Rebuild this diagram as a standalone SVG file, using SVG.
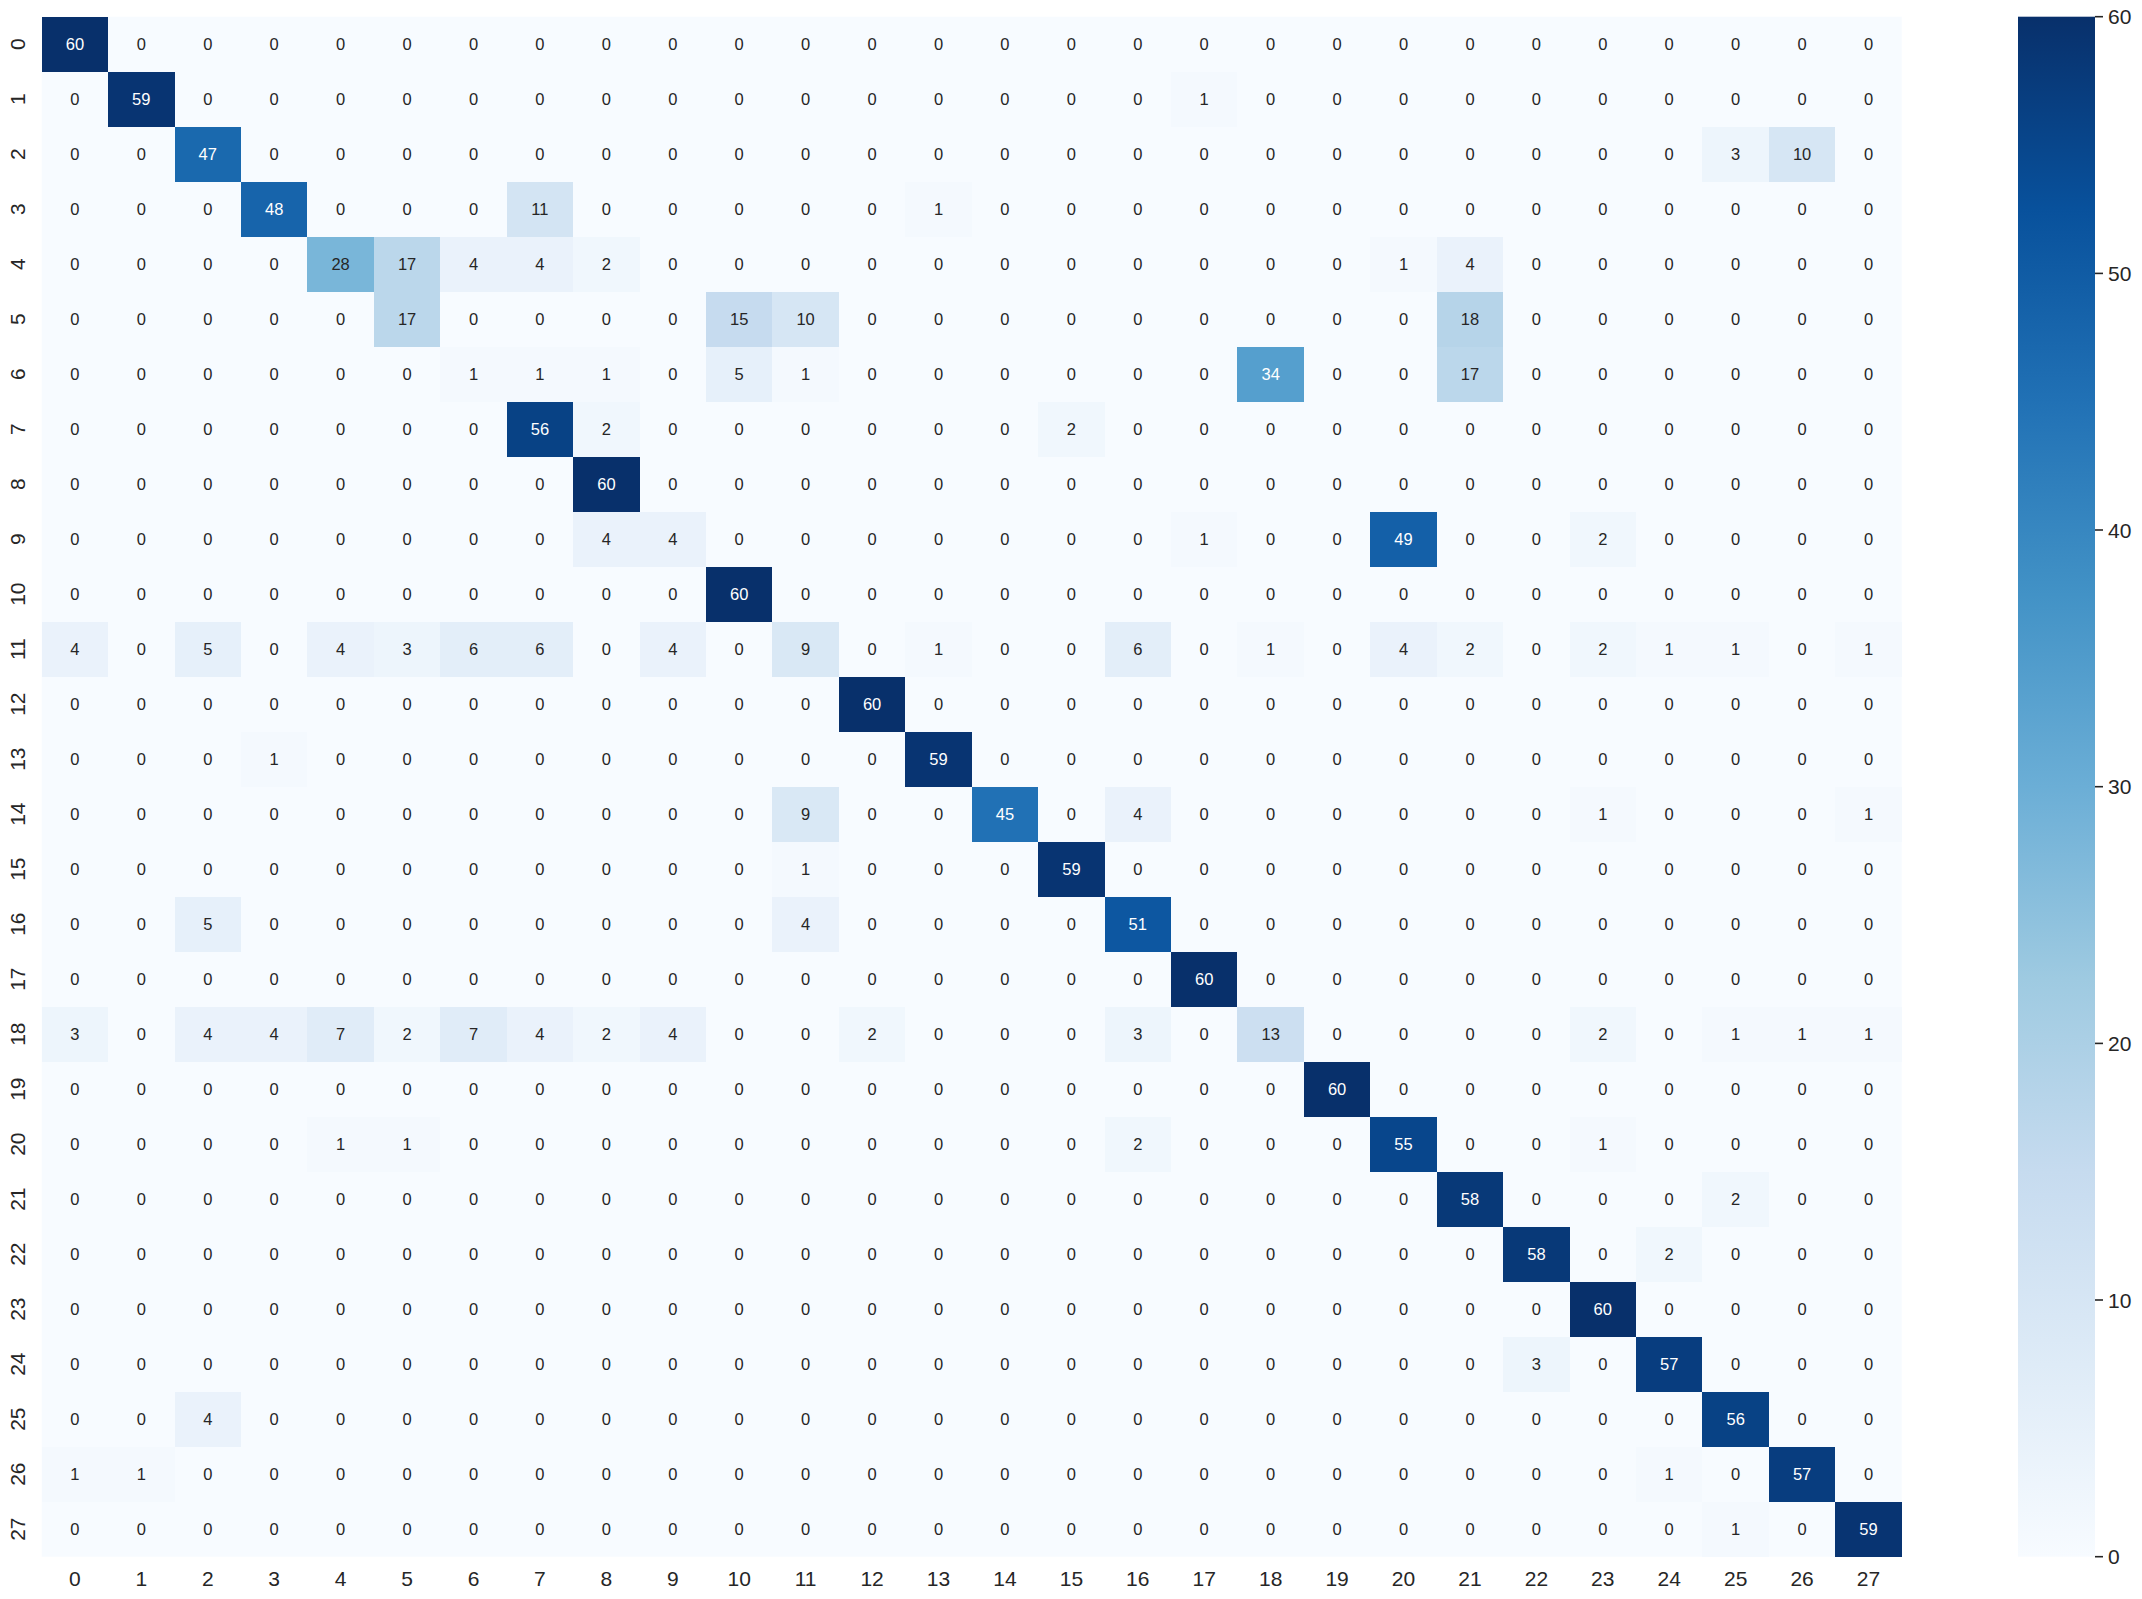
<svg xmlns="http://www.w3.org/2000/svg" width="2142" height="1599" viewBox="0 0 2142 1599">
<style>
text{font-family:"Liberation Sans",Arial,sans-serif;fill:#262626}
.a text{font-size:16.5px;text-anchor:middle}
.a .w{fill:#ffffff}
.tk{font-size:21px}
.xt text{text-anchor:middle}
.yt text{text-anchor:middle}
.cells rect{width:66.43px;height:55px}
.c1{fill:#f4f9fe}.c2{fill:#f0f7fd}.c3{fill:#edf5fc}.c4{fill:#eaf2fb}.c5{fill:#e6f0fa}.c6{fill:#e3eef9}.c7{fill:#e0ecf8}
.c9{fill:#d9e8f5}.c10{fill:#d6e6f4}.c11{fill:#d3e4f3}.c13{fill:#ccdff1}.c15{fill:#c6dbef}.c17{fill:#bbd7eb}.c18{fill:#b6d4e9}
.c28{fill:#79b6d9}.c34{fill:#559fce}.c45{fill:#2171b5}.c47{fill:#1a69ae}.c48{fill:#1764ab}.c49{fill:#1460a8}.c51{fill:#0d57a1}
.c55{fill:#08468c}.c56{fill:#084285}.c57{fill:#083d7f}.c58{fill:#083978}.c59{fill:#083472}.c60{fill:#08306b}
</style>
<defs>
<linearGradient id="blues" x1="0" y1="1" x2="0" y2="0">
<stop offset="0" stop-color="#f7fbff"/><stop offset="0.125" stop-color="#deebf7"/><stop offset="0.25" stop-color="#c6dbef"/>
<stop offset="0.375" stop-color="#9ecae1"/><stop offset="0.5" stop-color="#6baed6"/><stop offset="0.625" stop-color="#4292c6"/>
<stop offset="0.75" stop-color="#2171b5"/><stop offset="0.875" stop-color="#08519c"/><stop offset="1" stop-color="#08306b"/>
</linearGradient>
</defs>
<rect x="0" y="0" width="2142" height="1599" fill="#ffffff"/>
<g id="heatmap">
<rect x="41.7" y="16.7" width="1860.04" height="1540" fill="#f7fbff"/>
<g class="cells" shape-rendering="crispEdges">
<rect class="c60" x="41.7" y="16.7" width="66.43" height="55"/>
<rect class="c59" x="108.13" y="71.7" width="66.43" height="55"/><rect class="c1" x="1171.01" y="71.7" width="66.43" height="55"/>
<rect class="c47" x="174.56" y="126.7" width="66.43" height="55"/><rect class="c3" x="1702.45" y="126.7" width="66.43" height="55"/><rect class="c10" x="1768.88" y="126.7" width="66.43" height="55"/>
<rect class="c48" x="240.99" y="181.7" width="66.43" height="55"/><rect class="c11" x="506.71" y="181.7" width="66.43" height="55"/><rect class="c1" x="905.29" y="181.7" width="66.43" height="55"/>
<rect class="c28" x="307.42" y="236.7" width="66.43" height="55"/><rect class="c17" x="373.85" y="236.7" width="66.43" height="55"/><rect class="c4" x="440.28" y="236.7" width="66.43" height="55"/><rect class="c4" x="506.71" y="236.7" width="66.43" height="55"/><rect class="c2" x="573.14" y="236.7" width="66.43" height="55"/><rect class="c1" x="1370.3" y="236.7" width="66.43" height="55"/><rect class="c4" x="1436.73" y="236.7" width="66.43" height="55"/>
<rect class="c17" x="373.85" y="291.7" width="66.43" height="55"/><rect class="c15" x="706.0" y="291.7" width="66.43" height="55"/><rect class="c10" x="772.43" y="291.7" width="66.43" height="55"/><rect class="c18" x="1436.73" y="291.7" width="66.43" height="55"/>
<rect class="c1" x="440.28" y="346.7" width="66.43" height="55"/><rect class="c1" x="506.71" y="346.7" width="66.43" height="55"/><rect class="c1" x="573.14" y="346.7" width="66.43" height="55"/><rect class="c5" x="706.0" y="346.7" width="66.43" height="55"/><rect class="c1" x="772.43" y="346.7" width="66.43" height="55"/><rect class="c34" x="1237.44" y="346.7" width="66.43" height="55"/><rect class="c17" x="1436.73" y="346.7" width="66.43" height="55"/>
<rect class="c56" x="506.71" y="401.7" width="66.43" height="55"/><rect class="c2" x="573.14" y="401.7" width="66.43" height="55"/><rect class="c2" x="1038.15" y="401.7" width="66.43" height="55"/>
<rect class="c60" x="573.14" y="456.7" width="66.43" height="55"/>
<rect class="c4" x="573.14" y="511.7" width="66.43" height="55"/><rect class="c4" x="639.57" y="511.7" width="66.43" height="55"/><rect class="c1" x="1171.01" y="511.7" width="66.43" height="55"/><rect class="c49" x="1370.3" y="511.7" width="66.43" height="55"/><rect class="c2" x="1569.59" y="511.7" width="66.43" height="55"/>
<rect class="c60" x="706.0" y="566.7" width="66.43" height="55"/>
<rect class="c4" x="41.7" y="621.7" width="66.43" height="55"/><rect class="c5" x="174.56" y="621.7" width="66.43" height="55"/><rect class="c4" x="307.42" y="621.7" width="66.43" height="55"/><rect class="c3" x="373.85" y="621.7" width="66.43" height="55"/><rect class="c6" x="440.28" y="621.7" width="66.43" height="55"/><rect class="c6" x="506.71" y="621.7" width="66.43" height="55"/><rect class="c4" x="639.57" y="621.7" width="66.43" height="55"/><rect class="c9" x="772.43" y="621.7" width="66.43" height="55"/><rect class="c1" x="905.29" y="621.7" width="66.43" height="55"/><rect class="c6" x="1104.58" y="621.7" width="66.43" height="55"/><rect class="c1" x="1237.44" y="621.7" width="66.43" height="55"/><rect class="c4" x="1370.3" y="621.7" width="66.43" height="55"/><rect class="c2" x="1436.73" y="621.7" width="66.43" height="55"/><rect class="c2" x="1569.59" y="621.7" width="66.43" height="55"/><rect class="c1" x="1636.02" y="621.7" width="66.43" height="55"/><rect class="c1" x="1702.45" y="621.7" width="66.43" height="55"/><rect class="c1" x="1835.31" y="621.7" width="66.43" height="55"/>
<rect class="c60" x="838.86" y="676.7" width="66.43" height="55"/>
<rect class="c1" x="240.99" y="731.7" width="66.43" height="55"/><rect class="c59" x="905.29" y="731.7" width="66.43" height="55"/>
<rect class="c9" x="772.43" y="786.7" width="66.43" height="55"/><rect class="c45" x="971.72" y="786.7" width="66.43" height="55"/><rect class="c4" x="1104.58" y="786.7" width="66.43" height="55"/><rect class="c1" x="1569.59" y="786.7" width="66.43" height="55"/><rect class="c1" x="1835.31" y="786.7" width="66.43" height="55"/>
<rect class="c1" x="772.43" y="841.7" width="66.43" height="55"/><rect class="c59" x="1038.15" y="841.7" width="66.43" height="55"/>
<rect class="c5" x="174.56" y="896.7" width="66.43" height="55"/><rect class="c4" x="772.43" y="896.7" width="66.43" height="55"/><rect class="c51" x="1104.58" y="896.7" width="66.43" height="55"/>
<rect class="c60" x="1171.01" y="951.7" width="66.43" height="55"/>
<rect class="c3" x="41.7" y="1006.7" width="66.43" height="55"/><rect class="c4" x="174.56" y="1006.7" width="66.43" height="55"/><rect class="c4" x="240.99" y="1006.7" width="66.43" height="55"/><rect class="c7" x="307.42" y="1006.7" width="66.43" height="55"/><rect class="c2" x="373.85" y="1006.7" width="66.43" height="55"/><rect class="c7" x="440.28" y="1006.7" width="66.43" height="55"/><rect class="c4" x="506.71" y="1006.7" width="66.43" height="55"/><rect class="c2" x="573.14" y="1006.7" width="66.43" height="55"/><rect class="c4" x="639.57" y="1006.7" width="66.43" height="55"/><rect class="c2" x="838.86" y="1006.7" width="66.43" height="55"/><rect class="c3" x="1104.58" y="1006.7" width="66.43" height="55"/><rect class="c13" x="1237.44" y="1006.7" width="66.43" height="55"/><rect class="c2" x="1569.59" y="1006.7" width="66.43" height="55"/><rect class="c1" x="1702.45" y="1006.7" width="66.43" height="55"/><rect class="c1" x="1768.88" y="1006.7" width="66.43" height="55"/><rect class="c1" x="1835.31" y="1006.7" width="66.43" height="55"/>
<rect class="c60" x="1303.87" y="1061.7" width="66.43" height="55"/>
<rect class="c1" x="307.42" y="1116.7" width="66.43" height="55"/><rect class="c1" x="373.85" y="1116.7" width="66.43" height="55"/><rect class="c2" x="1104.58" y="1116.7" width="66.43" height="55"/><rect class="c55" x="1370.3" y="1116.7" width="66.43" height="55"/><rect class="c1" x="1569.59" y="1116.7" width="66.43" height="55"/>
<rect class="c58" x="1436.73" y="1171.7" width="66.43" height="55"/><rect class="c2" x="1702.45" y="1171.7" width="66.43" height="55"/>
<rect class="c58" x="1503.16" y="1226.7" width="66.43" height="55"/><rect class="c2" x="1636.02" y="1226.7" width="66.43" height="55"/>
<rect class="c60" x="1569.59" y="1281.7" width="66.43" height="55"/>
<rect class="c3" x="1503.16" y="1336.7" width="66.43" height="55"/><rect class="c57" x="1636.02" y="1336.7" width="66.43" height="55"/>
<rect class="c4" x="174.56" y="1391.7" width="66.43" height="55"/><rect class="c56" x="1702.45" y="1391.7" width="66.43" height="55"/>
<rect class="c1" x="41.7" y="1446.7" width="66.43" height="55"/><rect class="c1" x="108.13" y="1446.7" width="66.43" height="55"/><rect class="c1" x="1636.02" y="1446.7" width="66.43" height="55"/><rect class="c57" x="1768.88" y="1446.7" width="66.43" height="55"/>
<rect class="c1" x="1702.45" y="1501.7" width="66.43" height="55"/><rect class="c59" x="1835.31" y="1501.7" width="66.43" height="55"/>
</g>
<g class="a">
<g transform="translate(0,50.1)"><text x="74.9" class="w">60</text><text x="141.3">0</text><text x="207.8">0</text><text x="274.2">0</text><text x="340.6">0</text><text x="407.1">0</text><text x="473.5">0</text><text x="539.9">0</text><text x="606.4">0</text><text x="672.8">0</text><text x="739.2">0</text><text x="805.6">0</text><text x="872.1">0</text><text x="938.5">0</text><text x="1004.9">0</text><text x="1071.4">0</text><text x="1137.8">0</text><text x="1204.2">0</text><text x="1270.7">0</text><text x="1337.1">0</text><text x="1403.5">0</text><text x="1470">0</text><text x="1536.4">0</text><text x="1602.8">0</text><text x="1669.2">0</text><text x="1735.7">0</text><text x="1802.1">0</text><text x="1868.5">0</text></g>
<g transform="translate(0,105.1)"><text x="74.9">0</text><text x="141.3" class="w">59</text><text x="207.8">0</text><text x="274.2">0</text><text x="340.6">0</text><text x="407.1">0</text><text x="473.5">0</text><text x="539.9">0</text><text x="606.4">0</text><text x="672.8">0</text><text x="739.2">0</text><text x="805.6">0</text><text x="872.1">0</text><text x="938.5">0</text><text x="1004.9">0</text><text x="1071.4">0</text><text x="1137.8">0</text><text x="1204.2">1</text><text x="1270.7">0</text><text x="1337.1">0</text><text x="1403.5">0</text><text x="1470">0</text><text x="1536.4">0</text><text x="1602.8">0</text><text x="1669.2">0</text><text x="1735.7">0</text><text x="1802.1">0</text><text x="1868.5">0</text></g>
<g transform="translate(0,160.1)"><text x="74.9">0</text><text x="141.3">0</text><text x="207.8" class="w">47</text><text x="274.2">0</text><text x="340.6">0</text><text x="407.1">0</text><text x="473.5">0</text><text x="539.9">0</text><text x="606.4">0</text><text x="672.8">0</text><text x="739.2">0</text><text x="805.6">0</text><text x="872.1">0</text><text x="938.5">0</text><text x="1004.9">0</text><text x="1071.4">0</text><text x="1137.8">0</text><text x="1204.2">0</text><text x="1270.7">0</text><text x="1337.1">0</text><text x="1403.5">0</text><text x="1470">0</text><text x="1536.4">0</text><text x="1602.8">0</text><text x="1669.2">0</text><text x="1735.7">3</text><text x="1802.1">10</text><text x="1868.5">0</text></g>
<g transform="translate(0,215.1)"><text x="74.9">0</text><text x="141.3">0</text><text x="207.8">0</text><text x="274.2" class="w">48</text><text x="340.6">0</text><text x="407.1">0</text><text x="473.5">0</text><text x="539.9">11</text><text x="606.4">0</text><text x="672.8">0</text><text x="739.2">0</text><text x="805.6">0</text><text x="872.1">0</text><text x="938.5">1</text><text x="1004.9">0</text><text x="1071.4">0</text><text x="1137.8">0</text><text x="1204.2">0</text><text x="1270.7">0</text><text x="1337.1">0</text><text x="1403.5">0</text><text x="1470">0</text><text x="1536.4">0</text><text x="1602.8">0</text><text x="1669.2">0</text><text x="1735.7">0</text><text x="1802.1">0</text><text x="1868.5">0</text></g>
<g transform="translate(0,270.1)"><text x="74.9">0</text><text x="141.3">0</text><text x="207.8">0</text><text x="274.2">0</text><text x="340.6">28</text><text x="407.1">17</text><text x="473.5">4</text><text x="539.9">4</text><text x="606.4">2</text><text x="672.8">0</text><text x="739.2">0</text><text x="805.6">0</text><text x="872.1">0</text><text x="938.5">0</text><text x="1004.9">0</text><text x="1071.4">0</text><text x="1137.8">0</text><text x="1204.2">0</text><text x="1270.7">0</text><text x="1337.1">0</text><text x="1403.5">1</text><text x="1470">4</text><text x="1536.4">0</text><text x="1602.8">0</text><text x="1669.2">0</text><text x="1735.7">0</text><text x="1802.1">0</text><text x="1868.5">0</text></g>
<g transform="translate(0,325.1)"><text x="74.9">0</text><text x="141.3">0</text><text x="207.8">0</text><text x="274.2">0</text><text x="340.6">0</text><text x="407.1">17</text><text x="473.5">0</text><text x="539.9">0</text><text x="606.4">0</text><text x="672.8">0</text><text x="739.2">15</text><text x="805.6">10</text><text x="872.1">0</text><text x="938.5">0</text><text x="1004.9">0</text><text x="1071.4">0</text><text x="1137.8">0</text><text x="1204.2">0</text><text x="1270.7">0</text><text x="1337.1">0</text><text x="1403.5">0</text><text x="1470">18</text><text x="1536.4">0</text><text x="1602.8">0</text><text x="1669.2">0</text><text x="1735.7">0</text><text x="1802.1">0</text><text x="1868.5">0</text></g>
<g transform="translate(0,380.1)"><text x="74.9">0</text><text x="141.3">0</text><text x="207.8">0</text><text x="274.2">0</text><text x="340.6">0</text><text x="407.1">0</text><text x="473.5">1</text><text x="539.9">1</text><text x="606.4">1</text><text x="672.8">0</text><text x="739.2">5</text><text x="805.6">1</text><text x="872.1">0</text><text x="938.5">0</text><text x="1004.9">0</text><text x="1071.4">0</text><text x="1137.8">0</text><text x="1204.2">0</text><text x="1270.7" class="w">34</text><text x="1337.1">0</text><text x="1403.5">0</text><text x="1470">17</text><text x="1536.4">0</text><text x="1602.8">0</text><text x="1669.2">0</text><text x="1735.7">0</text><text x="1802.1">0</text><text x="1868.5">0</text></g>
<g transform="translate(0,435.1)"><text x="74.9">0</text><text x="141.3">0</text><text x="207.8">0</text><text x="274.2">0</text><text x="340.6">0</text><text x="407.1">0</text><text x="473.5">0</text><text x="539.9" class="w">56</text><text x="606.4">2</text><text x="672.8">0</text><text x="739.2">0</text><text x="805.6">0</text><text x="872.1">0</text><text x="938.5">0</text><text x="1004.9">0</text><text x="1071.4">2</text><text x="1137.8">0</text><text x="1204.2">0</text><text x="1270.7">0</text><text x="1337.1">0</text><text x="1403.5">0</text><text x="1470">0</text><text x="1536.4">0</text><text x="1602.8">0</text><text x="1669.2">0</text><text x="1735.7">0</text><text x="1802.1">0</text><text x="1868.5">0</text></g>
<g transform="translate(0,490.1)"><text x="74.9">0</text><text x="141.3">0</text><text x="207.8">0</text><text x="274.2">0</text><text x="340.6">0</text><text x="407.1">0</text><text x="473.5">0</text><text x="539.9">0</text><text x="606.4" class="w">60</text><text x="672.8">0</text><text x="739.2">0</text><text x="805.6">0</text><text x="872.1">0</text><text x="938.5">0</text><text x="1004.9">0</text><text x="1071.4">0</text><text x="1137.8">0</text><text x="1204.2">0</text><text x="1270.7">0</text><text x="1337.1">0</text><text x="1403.5">0</text><text x="1470">0</text><text x="1536.4">0</text><text x="1602.8">0</text><text x="1669.2">0</text><text x="1735.7">0</text><text x="1802.1">0</text><text x="1868.5">0</text></g>
<g transform="translate(0,545.1)"><text x="74.9">0</text><text x="141.3">0</text><text x="207.8">0</text><text x="274.2">0</text><text x="340.6">0</text><text x="407.1">0</text><text x="473.5">0</text><text x="539.9">0</text><text x="606.4">4</text><text x="672.8">4</text><text x="739.2">0</text><text x="805.6">0</text><text x="872.1">0</text><text x="938.5">0</text><text x="1004.9">0</text><text x="1071.4">0</text><text x="1137.8">0</text><text x="1204.2">1</text><text x="1270.7">0</text><text x="1337.1">0</text><text x="1403.5" class="w">49</text><text x="1470">0</text><text x="1536.4">0</text><text x="1602.8">2</text><text x="1669.2">0</text><text x="1735.7">0</text><text x="1802.1">0</text><text x="1868.5">0</text></g>
<g transform="translate(0,600.1)"><text x="74.9">0</text><text x="141.3">0</text><text x="207.8">0</text><text x="274.2">0</text><text x="340.6">0</text><text x="407.1">0</text><text x="473.5">0</text><text x="539.9">0</text><text x="606.4">0</text><text x="672.8">0</text><text x="739.2" class="w">60</text><text x="805.6">0</text><text x="872.1">0</text><text x="938.5">0</text><text x="1004.9">0</text><text x="1071.4">0</text><text x="1137.8">0</text><text x="1204.2">0</text><text x="1270.7">0</text><text x="1337.1">0</text><text x="1403.5">0</text><text x="1470">0</text><text x="1536.4">0</text><text x="1602.8">0</text><text x="1669.2">0</text><text x="1735.7">0</text><text x="1802.1">0</text><text x="1868.5">0</text></g>
<g transform="translate(0,655.1)"><text x="74.9">4</text><text x="141.3">0</text><text x="207.8">5</text><text x="274.2">0</text><text x="340.6">4</text><text x="407.1">3</text><text x="473.5">6</text><text x="539.9">6</text><text x="606.4">0</text><text x="672.8">4</text><text x="739.2">0</text><text x="805.6">9</text><text x="872.1">0</text><text x="938.5">1</text><text x="1004.9">0</text><text x="1071.4">0</text><text x="1137.8">6</text><text x="1204.2">0</text><text x="1270.7">1</text><text x="1337.1">0</text><text x="1403.5">4</text><text x="1470">2</text><text x="1536.4">0</text><text x="1602.8">2</text><text x="1669.2">1</text><text x="1735.7">1</text><text x="1802.1">0</text><text x="1868.5">1</text></g>
<g transform="translate(0,710.1)"><text x="74.9">0</text><text x="141.3">0</text><text x="207.8">0</text><text x="274.2">0</text><text x="340.6">0</text><text x="407.1">0</text><text x="473.5">0</text><text x="539.9">0</text><text x="606.4">0</text><text x="672.8">0</text><text x="739.2">0</text><text x="805.6">0</text><text x="872.1" class="w">60</text><text x="938.5">0</text><text x="1004.9">0</text><text x="1071.4">0</text><text x="1137.8">0</text><text x="1204.2">0</text><text x="1270.7">0</text><text x="1337.1">0</text><text x="1403.5">0</text><text x="1470">0</text><text x="1536.4">0</text><text x="1602.8">0</text><text x="1669.2">0</text><text x="1735.7">0</text><text x="1802.1">0</text><text x="1868.5">0</text></g>
<g transform="translate(0,765.1)"><text x="74.9">0</text><text x="141.3">0</text><text x="207.8">0</text><text x="274.2">1</text><text x="340.6">0</text><text x="407.1">0</text><text x="473.5">0</text><text x="539.9">0</text><text x="606.4">0</text><text x="672.8">0</text><text x="739.2">0</text><text x="805.6">0</text><text x="872.1">0</text><text x="938.5" class="w">59</text><text x="1004.9">0</text><text x="1071.4">0</text><text x="1137.8">0</text><text x="1204.2">0</text><text x="1270.7">0</text><text x="1337.1">0</text><text x="1403.5">0</text><text x="1470">0</text><text x="1536.4">0</text><text x="1602.8">0</text><text x="1669.2">0</text><text x="1735.7">0</text><text x="1802.1">0</text><text x="1868.5">0</text></g>
<g transform="translate(0,820.1)"><text x="74.9">0</text><text x="141.3">0</text><text x="207.8">0</text><text x="274.2">0</text><text x="340.6">0</text><text x="407.1">0</text><text x="473.5">0</text><text x="539.9">0</text><text x="606.4">0</text><text x="672.8">0</text><text x="739.2">0</text><text x="805.6">9</text><text x="872.1">0</text><text x="938.5">0</text><text x="1004.9" class="w">45</text><text x="1071.4">0</text><text x="1137.8">4</text><text x="1204.2">0</text><text x="1270.7">0</text><text x="1337.1">0</text><text x="1403.5">0</text><text x="1470">0</text><text x="1536.4">0</text><text x="1602.8">1</text><text x="1669.2">0</text><text x="1735.7">0</text><text x="1802.1">0</text><text x="1868.5">1</text></g>
<g transform="translate(0,875.1)"><text x="74.9">0</text><text x="141.3">0</text><text x="207.8">0</text><text x="274.2">0</text><text x="340.6">0</text><text x="407.1">0</text><text x="473.5">0</text><text x="539.9">0</text><text x="606.4">0</text><text x="672.8">0</text><text x="739.2">0</text><text x="805.6">1</text><text x="872.1">0</text><text x="938.5">0</text><text x="1004.9">0</text><text x="1071.4" class="w">59</text><text x="1137.8">0</text><text x="1204.2">0</text><text x="1270.7">0</text><text x="1337.1">0</text><text x="1403.5">0</text><text x="1470">0</text><text x="1536.4">0</text><text x="1602.8">0</text><text x="1669.2">0</text><text x="1735.7">0</text><text x="1802.1">0</text><text x="1868.5">0</text></g>
<g transform="translate(0,930.1)"><text x="74.9">0</text><text x="141.3">0</text><text x="207.8">5</text><text x="274.2">0</text><text x="340.6">0</text><text x="407.1">0</text><text x="473.5">0</text><text x="539.9">0</text><text x="606.4">0</text><text x="672.8">0</text><text x="739.2">0</text><text x="805.6">4</text><text x="872.1">0</text><text x="938.5">0</text><text x="1004.9">0</text><text x="1071.4">0</text><text x="1137.8" class="w">51</text><text x="1204.2">0</text><text x="1270.7">0</text><text x="1337.1">0</text><text x="1403.5">0</text><text x="1470">0</text><text x="1536.4">0</text><text x="1602.8">0</text><text x="1669.2">0</text><text x="1735.7">0</text><text x="1802.1">0</text><text x="1868.5">0</text></g>
<g transform="translate(0,985.1)"><text x="74.9">0</text><text x="141.3">0</text><text x="207.8">0</text><text x="274.2">0</text><text x="340.6">0</text><text x="407.1">0</text><text x="473.5">0</text><text x="539.9">0</text><text x="606.4">0</text><text x="672.8">0</text><text x="739.2">0</text><text x="805.6">0</text><text x="872.1">0</text><text x="938.5">0</text><text x="1004.9">0</text><text x="1071.4">0</text><text x="1137.8">0</text><text x="1204.2" class="w">60</text><text x="1270.7">0</text><text x="1337.1">0</text><text x="1403.5">0</text><text x="1470">0</text><text x="1536.4">0</text><text x="1602.8">0</text><text x="1669.2">0</text><text x="1735.7">0</text><text x="1802.1">0</text><text x="1868.5">0</text></g>
<g transform="translate(0,1040.1)"><text x="74.9">3</text><text x="141.3">0</text><text x="207.8">4</text><text x="274.2">4</text><text x="340.6">7</text><text x="407.1">2</text><text x="473.5">7</text><text x="539.9">4</text><text x="606.4">2</text><text x="672.8">4</text><text x="739.2">0</text><text x="805.6">0</text><text x="872.1">2</text><text x="938.5">0</text><text x="1004.9">0</text><text x="1071.4">0</text><text x="1137.8">3</text><text x="1204.2">0</text><text x="1270.7">13</text><text x="1337.1">0</text><text x="1403.5">0</text><text x="1470">0</text><text x="1536.4">0</text><text x="1602.8">2</text><text x="1669.2">0</text><text x="1735.7">1</text><text x="1802.1">1</text><text x="1868.5">1</text></g>
<g transform="translate(0,1095.1)"><text x="74.9">0</text><text x="141.3">0</text><text x="207.8">0</text><text x="274.2">0</text><text x="340.6">0</text><text x="407.1">0</text><text x="473.5">0</text><text x="539.9">0</text><text x="606.4">0</text><text x="672.8">0</text><text x="739.2">0</text><text x="805.6">0</text><text x="872.1">0</text><text x="938.5">0</text><text x="1004.9">0</text><text x="1071.4">0</text><text x="1137.8">0</text><text x="1204.2">0</text><text x="1270.7">0</text><text x="1337.1" class="w">60</text><text x="1403.5">0</text><text x="1470">0</text><text x="1536.4">0</text><text x="1602.8">0</text><text x="1669.2">0</text><text x="1735.7">0</text><text x="1802.1">0</text><text x="1868.5">0</text></g>
<g transform="translate(0,1150.1)"><text x="74.9">0</text><text x="141.3">0</text><text x="207.8">0</text><text x="274.2">0</text><text x="340.6">1</text><text x="407.1">1</text><text x="473.5">0</text><text x="539.9">0</text><text x="606.4">0</text><text x="672.8">0</text><text x="739.2">0</text><text x="805.6">0</text><text x="872.1">0</text><text x="938.5">0</text><text x="1004.9">0</text><text x="1071.4">0</text><text x="1137.8">2</text><text x="1204.2">0</text><text x="1270.7">0</text><text x="1337.1">0</text><text x="1403.5" class="w">55</text><text x="1470">0</text><text x="1536.4">0</text><text x="1602.8">1</text><text x="1669.2">0</text><text x="1735.7">0</text><text x="1802.1">0</text><text x="1868.5">0</text></g>
<g transform="translate(0,1205.1)"><text x="74.9">0</text><text x="141.3">0</text><text x="207.8">0</text><text x="274.2">0</text><text x="340.6">0</text><text x="407.1">0</text><text x="473.5">0</text><text x="539.9">0</text><text x="606.4">0</text><text x="672.8">0</text><text x="739.2">0</text><text x="805.6">0</text><text x="872.1">0</text><text x="938.5">0</text><text x="1004.9">0</text><text x="1071.4">0</text><text x="1137.8">0</text><text x="1204.2">0</text><text x="1270.7">0</text><text x="1337.1">0</text><text x="1403.5">0</text><text x="1470" class="w">58</text><text x="1536.4">0</text><text x="1602.8">0</text><text x="1669.2">0</text><text x="1735.7">2</text><text x="1802.1">0</text><text x="1868.5">0</text></g>
<g transform="translate(0,1260.1)"><text x="74.9">0</text><text x="141.3">0</text><text x="207.8">0</text><text x="274.2">0</text><text x="340.6">0</text><text x="407.1">0</text><text x="473.5">0</text><text x="539.9">0</text><text x="606.4">0</text><text x="672.8">0</text><text x="739.2">0</text><text x="805.6">0</text><text x="872.1">0</text><text x="938.5">0</text><text x="1004.9">0</text><text x="1071.4">0</text><text x="1137.8">0</text><text x="1204.2">0</text><text x="1270.7">0</text><text x="1337.1">0</text><text x="1403.5">0</text><text x="1470">0</text><text x="1536.4" class="w">58</text><text x="1602.8">0</text><text x="1669.2">2</text><text x="1735.7">0</text><text x="1802.1">0</text><text x="1868.5">0</text></g>
<g transform="translate(0,1315.1)"><text x="74.9">0</text><text x="141.3">0</text><text x="207.8">0</text><text x="274.2">0</text><text x="340.6">0</text><text x="407.1">0</text><text x="473.5">0</text><text x="539.9">0</text><text x="606.4">0</text><text x="672.8">0</text><text x="739.2">0</text><text x="805.6">0</text><text x="872.1">0</text><text x="938.5">0</text><text x="1004.9">0</text><text x="1071.4">0</text><text x="1137.8">0</text><text x="1204.2">0</text><text x="1270.7">0</text><text x="1337.1">0</text><text x="1403.5">0</text><text x="1470">0</text><text x="1536.4">0</text><text x="1602.8" class="w">60</text><text x="1669.2">0</text><text x="1735.7">0</text><text x="1802.1">0</text><text x="1868.5">0</text></g>
<g transform="translate(0,1370.1)"><text x="74.9">0</text><text x="141.3">0</text><text x="207.8">0</text><text x="274.2">0</text><text x="340.6">0</text><text x="407.1">0</text><text x="473.5">0</text><text x="539.9">0</text><text x="606.4">0</text><text x="672.8">0</text><text x="739.2">0</text><text x="805.6">0</text><text x="872.1">0</text><text x="938.5">0</text><text x="1004.9">0</text><text x="1071.4">0</text><text x="1137.8">0</text><text x="1204.2">0</text><text x="1270.7">0</text><text x="1337.1">0</text><text x="1403.5">0</text><text x="1470">0</text><text x="1536.4">3</text><text x="1602.8">0</text><text x="1669.2" class="w">57</text><text x="1735.7">0</text><text x="1802.1">0</text><text x="1868.5">0</text></g>
<g transform="translate(0,1425.1)"><text x="74.9">0</text><text x="141.3">0</text><text x="207.8">4</text><text x="274.2">0</text><text x="340.6">0</text><text x="407.1">0</text><text x="473.5">0</text><text x="539.9">0</text><text x="606.4">0</text><text x="672.8">0</text><text x="739.2">0</text><text x="805.6">0</text><text x="872.1">0</text><text x="938.5">0</text><text x="1004.9">0</text><text x="1071.4">0</text><text x="1137.8">0</text><text x="1204.2">0</text><text x="1270.7">0</text><text x="1337.1">0</text><text x="1403.5">0</text><text x="1470">0</text><text x="1536.4">0</text><text x="1602.8">0</text><text x="1669.2">0</text><text x="1735.7" class="w">56</text><text x="1802.1">0</text><text x="1868.5">0</text></g>
<g transform="translate(0,1480.1)"><text x="74.9">1</text><text x="141.3">1</text><text x="207.8">0</text><text x="274.2">0</text><text x="340.6">0</text><text x="407.1">0</text><text x="473.5">0</text><text x="539.9">0</text><text x="606.4">0</text><text x="672.8">0</text><text x="739.2">0</text><text x="805.6">0</text><text x="872.1">0</text><text x="938.5">0</text><text x="1004.9">0</text><text x="1071.4">0</text><text x="1137.8">0</text><text x="1204.2">0</text><text x="1270.7">0</text><text x="1337.1">0</text><text x="1403.5">0</text><text x="1470">0</text><text x="1536.4">0</text><text x="1602.8">0</text><text x="1669.2">1</text><text x="1735.7">0</text><text x="1802.1" class="w">57</text><text x="1868.5">0</text></g>
<g transform="translate(0,1535.1)"><text x="74.9">0</text><text x="141.3">0</text><text x="207.8">0</text><text x="274.2">0</text><text x="340.6">0</text><text x="407.1">0</text><text x="473.5">0</text><text x="539.9">0</text><text x="606.4">0</text><text x="672.8">0</text><text x="739.2">0</text><text x="805.6">0</text><text x="872.1">0</text><text x="938.5">0</text><text x="1004.9">0</text><text x="1071.4">0</text><text x="1137.8">0</text><text x="1204.2">0</text><text x="1270.7">0</text><text x="1337.1">0</text><text x="1403.5">0</text><text x="1470">0</text><text x="1536.4">0</text><text x="1602.8">0</text><text x="1669.2">0</text><text x="1735.7">1</text><text x="1802.1">0</text><text x="1868.5" class="w">59</text></g>
</g>
</g>
<g id="x-axis" class="tk xt">
<g transform="translate(0,1586)"><text x="74.9">0</text><text x="141.3">1</text><text x="207.8">2</text><text x="274.2">3</text><text x="340.6">4</text><text x="407.1">5</text><text x="473.5">6</text><text x="539.9">7</text><text x="606.4">8</text><text x="672.8">9</text><text x="739.2">10</text><text x="805.6">11</text><text x="872.1">12</text><text x="938.5">13</text><text x="1004.9">14</text><text x="1071.4">15</text><text x="1137.8">16</text><text x="1204.2">17</text><text x="1270.7">18</text><text x="1337.1">19</text><text x="1403.5">20</text><text x="1470">21</text><text x="1536.4">22</text><text x="1602.8">23</text><text x="1669.2">24</text><text x="1735.7">25</text><text x="1802.1">26</text><text x="1868.5">27</text></g>
</g>
<g id="y-axis" class="tk yt">
<text transform="translate(25,44.2) rotate(-90)">0</text>
<text transform="translate(25,99.2) rotate(-90)">1</text>
<text transform="translate(25,154.2) rotate(-90)">2</text>
<text transform="translate(25,209.2) rotate(-90)">3</text>
<text transform="translate(25,264.2) rotate(-90)">4</text>
<text transform="translate(25,319.2) rotate(-90)">5</text>
<text transform="translate(25,374.2) rotate(-90)">6</text>
<text transform="translate(25,429.2) rotate(-90)">7</text>
<text transform="translate(25,484.2) rotate(-90)">8</text>
<text transform="translate(25,539.2) rotate(-90)">9</text>
<text transform="translate(25,594.2) rotate(-90)">10</text>
<text transform="translate(25,649.2) rotate(-90)">11</text>
<text transform="translate(25,704.2) rotate(-90)">12</text>
<text transform="translate(25,759.2) rotate(-90)">13</text>
<text transform="translate(25,814.2) rotate(-90)">14</text>
<text transform="translate(25,869.2) rotate(-90)">15</text>
<text transform="translate(25,924.2) rotate(-90)">16</text>
<text transform="translate(25,979.2) rotate(-90)">17</text>
<text transform="translate(25,1034.2) rotate(-90)">18</text>
<text transform="translate(25,1089.2) rotate(-90)">19</text>
<text transform="translate(25,1144.2) rotate(-90)">20</text>
<text transform="translate(25,1199.2) rotate(-90)">21</text>
<text transform="translate(25,1254.2) rotate(-90)">22</text>
<text transform="translate(25,1309.2) rotate(-90)">23</text>
<text transform="translate(25,1364.2) rotate(-90)">24</text>
<text transform="translate(25,1419.2) rotate(-90)">25</text>
<text transform="translate(25,1474.2) rotate(-90)">26</text>
<text transform="translate(25,1529.2) rotate(-90)">27</text>
</g>
<g id="colorbar">
<rect x="2018" y="16.7" width="77" height="1540" fill="url(#blues)"/>
<g stroke="#262626" stroke-width="1.6">
<line x1="2095" y1="1556.7" x2="2103" y2="1556.7"/>
<line x1="2095" y1="1300" x2="2103" y2="1300"/>
<line x1="2095" y1="1043.4" x2="2103" y2="1043.4"/>
<line x1="2095" y1="786.7" x2="2103" y2="786.7"/>
<line x1="2095" y1="530" x2="2103" y2="530"/>
<line x1="2095" y1="273.4" x2="2103" y2="273.4"/>
<line x1="2095" y1="16.7" x2="2103" y2="16.7"/>
</g>
<g class="tk">
<text x="2108" y="1564.3">0</text>
<text x="2108" y="1307.6">10</text>
<text x="2108" y="1051">20</text>
<text x="2108" y="794.3">30</text>
<text x="2108" y="537.6">40</text>
<text x="2108" y="281">50</text>
<text x="2108" y="24.3">60</text>
</g>
</g>
</svg>
